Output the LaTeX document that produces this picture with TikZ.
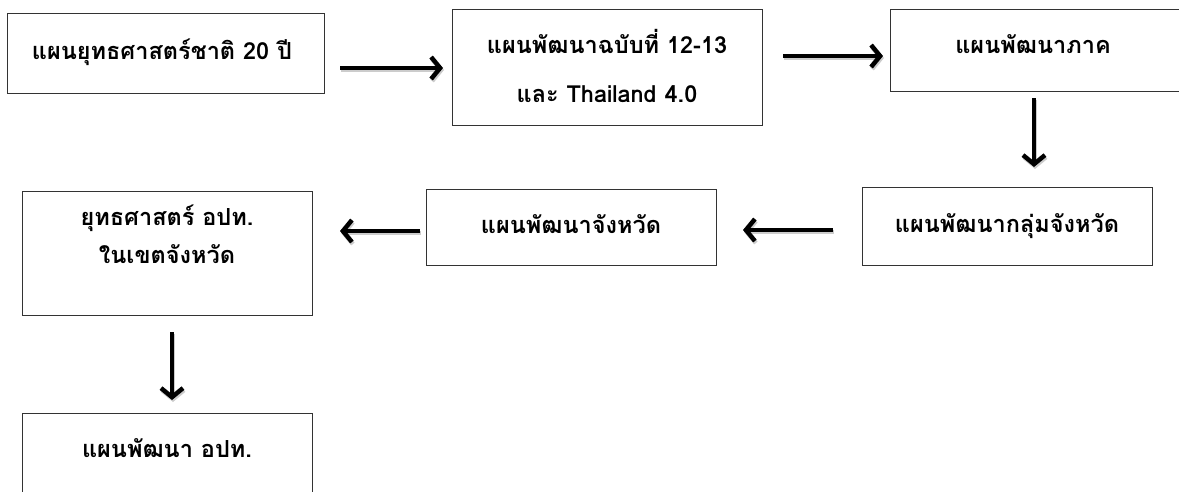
\documentclass[tikz,border=0pt]{standalone}
\usepackage{fontspec}
\newfontfamily\thai[Script=Thai]{Loma}
\usetikzlibrary{arrows.meta}
\begin{document}
\begin{tikzpicture}[x=1pt,y=-1pt,
  box/.style={draw=black!80, line width=1pt, rectangle, inner sep=0pt},
  txt/.style={font=\thai\bfseries\fontsize{23.5}{28}\selectfont, inner sep=0pt, anchor=base},
  arr/.style={line width=4.5pt, -{Straight Barb[length=9pt,width=22pt]},
    preaction={draw=black!20, line width=4.5pt, transform canvas={xshift=1pt,yshift=-2pt}}}]
\useasboundingbox (0,0) rectangle (1179,491);
\clip (0,0) rectangle (1179,491);
% boxes
\node[box, minimum width=317pt, minimum height=80pt] (b1) at (165.5,53) {};
\node[box, minimum width=310pt, minimum height=116pt] (b2) at (607,67) {};
\node[box, minimum width=291pt, minimum height=82pt] (b3) at (1035.5,50) {};
\node[box, minimum width=290pt, minimum height=78pt] (b4) at (1007,226) {};
\node[box, minimum width=290pt, minimum height=76pt] (b5) at (571,227) {};
\node[box, minimum width=290pt, minimum height=124pt] (b6) at (167,253) {};
\node[box, minimum width=290pt, minimum height=120pt] (b7) at (167,473) {};
% texts
\node[txt] (t1) at (162,59) {แผนยุทธศาสตร์ชาติ 20 ปี};
\node[txt] (t2a) at (607,53) {แผนพัฒนาฉบับที่ 12-13};
\node[txt] (t2b) at (607,102) {และ Thailand 4.0};
\node[txt] (t3) at (1033,53) {แผนพัฒนาภาค};
\node[txt] (t4) at (1007,232) {แผนพัฒนากลุ่มจังหวัด};
\node[txt] (t5) at (571,233) {แผนพัฒนาจังหวัด};
\node[txt] (t6a) at (167,225) {ยุทธศาสตร์ อปท.};
\node[txt] (t6b) at (167,263) {ในเขตจังหวัด};
\node[txt] (t7) at (167,457) {แผนพัฒนา อปท.};
% arrow ends
\coordinate (a1s) at (340,68); \coordinate (a1e) at (443,68);
\coordinate (a2s) at (783,56); \coordinate (a2e) at (883,56);
\coordinate (a3s) at (1034,98); \coordinate (a3e) at (1034,167);
\coordinate (a4s) at (833,230); \coordinate (a4e) at (743,230);
\coordinate (a5s) at (420,231); \coordinate (a5e) at (340,231);
\coordinate (a6s) at (172,332); \coordinate (a6e) at (172,400);
\draw[arr] (a1s) -- (a1e);
\draw[arr] (a2s) -- (a2e);
\draw[arr] (a3s) -- (a3e);
\draw[arr] (a4s) -- (a4e);
\draw[arr] (a5s) -- (a5e);
\draw[arr] (a6s) -- (a6e);
\end{tikzpicture}
\end{document}
